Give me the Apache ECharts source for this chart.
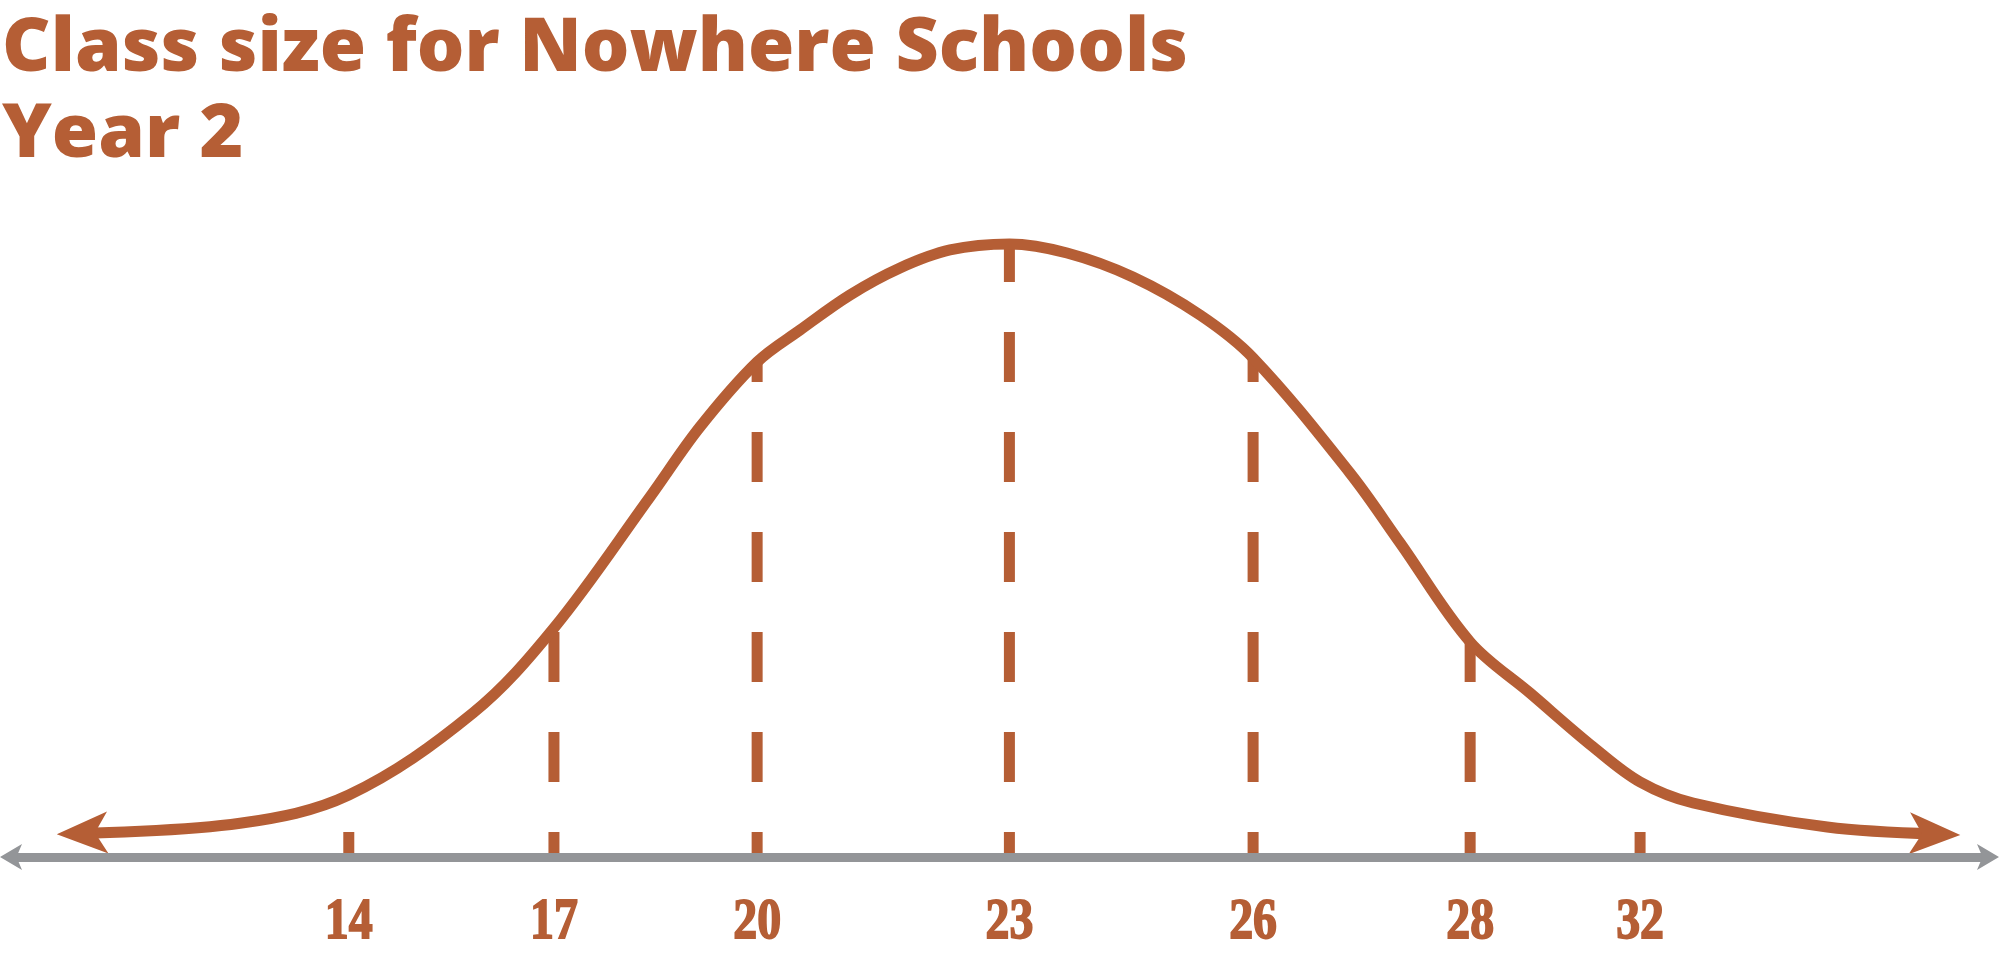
<!DOCTYPE html>
<html><head><meta charset="utf-8">
<script src="https://cdn.jsdelivr.net/npm/echarts@6/dist/echarts.min.js"></script>
<style>html,body{margin:0;padding:0;background:#fff}#c{width:1999px;height:957px}</style>
</head><body><div id="c"></div>
<script>
// ---- data ----
const titleLines = ['Class size for Nowhere Schools', 'Year 2'];
// class-size labels under the dashed lines
const classSizes = ['14', '17', '20', '23', '26', '28', '32'];
// where each dashed line sits on the horizontal (standard-deviation) scale
const markerPos = [-3.001, -2.069, -1.146, 0, 1.107, 2.093, 2.865];
// height of the curve at each dashed line (peak ~ 100)
const markerHeight = [10.05, 37.12, 80.23, 99.35, 80.88, 34.85, 12.16];
// key points of the bell curve
const curveX = [-4.214, -3.495, -3.001, -2.437, -2.069, -1.633, -1.406, -1.146, -0.951, -0.724, -0.497, -0.270, 0, 0.262, 0.561, 0.866, 1.107, 1.547, 1.775, 2.093, 2.365, 2.652, 2.865, 3.106, 3.715, 4.206];
const curveY = [3.81, 5.46, 10.05, 23.34, 37.12, 58.35, 69.69, 80.23, 85.41, 91.09, 95.46, 98.38, 99.35, 97.89, 94.00, 87.84, 80.88, 62.24, 50.89, 34.85, 26.58, 17.83, 12.16, 8.75, 4.86, 3.73];

// ---- styling ----
const RUST = '#B55E35';
const GREY = '#939598';

const chart = echarts.init(document.getElementById('c'), null, {renderer: 'canvas'});

const last = curveX.length - 1;
const curveData = curveX.map((x, i) => {
  const item = {value: [x, curveY[i]]};
  if (i === 0) {
    item.symbol = 'arrow'; item.symbolSize = [31.5, 51]; item.symbolRotate = 92; item.symbolOffset = [-25, 0.7];
  }
  if (i === last) {
    item.symbol = 'arrow'; item.symbolSize = [31.5, 51]; item.symbolRotate = -92; item.symbolOffset = [25, 1];
  }
  return item;
});

const markerSeries = markerPos.map((x, i) => ({
  type: 'line',
  data: [[x, 0], [x, markerHeight[i]]],
  symbol: 'none',
  silent: true,
  z: 2,
  lineStyle: {color: RUST, width: 11, type: [50, 50], dashOffset: 25, cap: 'butt'},
  emphasis: {disabled: true}
}));

const labelSeries = {
  type: 'custom',
  silent: true,
  clip: false,
  z: 5,
  data: markerPos.map((p, i) => [p, i]),
  renderItem: function (params, api) {
    const pt = api.coord([api.value(0), 0]);
    return {
      type: 'text',
      x: pt[0], y: pt[1] + 66.5,
      scaleX: 0.84,
      silent: true,
      style: {
        text: classSizes[params.dataIndex],
        fill: RUST,
        stroke: RUST, lineWidth: 1.8,
        font: 'bold 57px "Liberation Serif", "Times New Roman", serif',
        align: 'center', verticalAlign: 'middle'
      }
    };
  }
};

chart.setOption({
  animation: false,
  backgroundColor: '#ffffff',
  title: {
    text: titleLines.join('\n'),
    left: 2, top: 7, padding: 0,
    textStyle: {fontFamily: 'Open Sans', fontWeight: 800, fontSize: 75, lineHeight: 86, color: RUST}
  },
  grid: {left: 10, right: 10, top: 240, bottom: 100},
  xAxis: {
    type: 'value', min: -4.54, max: 4.45, z: 10,
    splitLine: {show: false},
    axisTick: {show: false},
    axisLabel: {show: false},
    axisLine: {
      show: true, onZero: false,
      lineStyle: {color: GREY, width: 9, cap: 'butt'},
      symbol: ['arrow', 'arrow'], symbolSize: [19.5, 22], symbolOffset: [-10, 10]
    }
  },
  yAxis: {type: 'value', min: 0, max: 100, show: false},
  series: markerSeries.concat([{
    type: 'line',
    data: curveData,
    smooth: 0.35,
    symbol: 'none',
    showSymbol: true,
    silent: true,
    z: 3,
    lineStyle: {color: RUST, width: 11, cap: 'butt'},
    itemStyle: {color: RUST, borderWidth: 0},
    emphasis: {disabled: true}
  }, labelSeries])
});
</script></body></html>
